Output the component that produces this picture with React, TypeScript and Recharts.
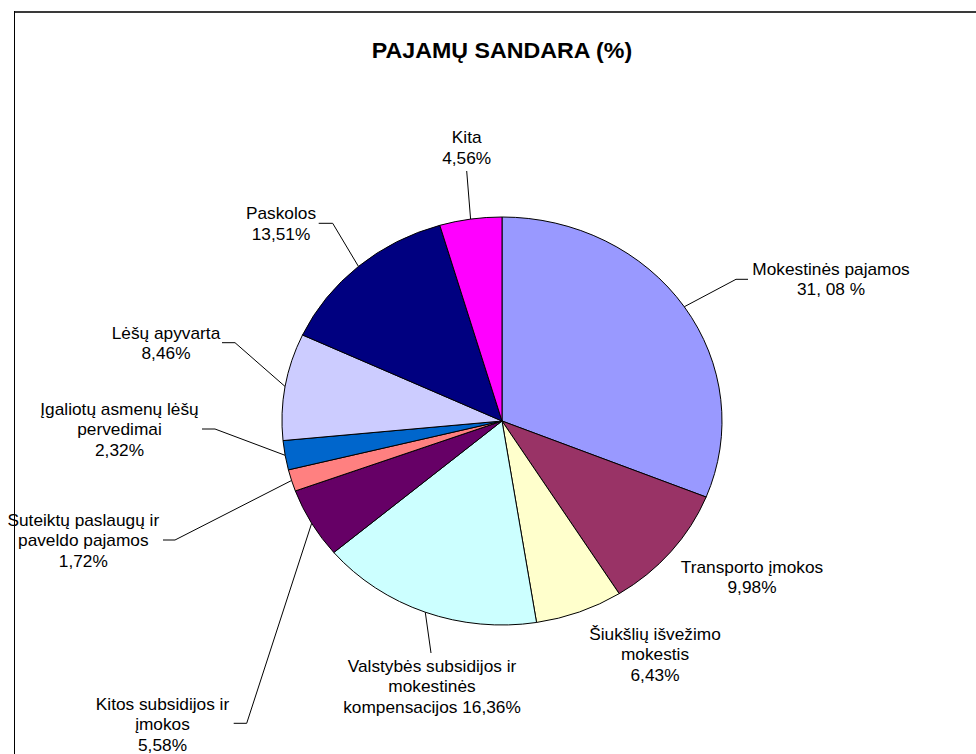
import React from 'react';
import { PieChart, Pie, Cell } from 'recharts';

// slice order runs clockwise from 12 o'clock, as in the source sheet
const categories = [
  'Mokestinės pajamos',
  'Transporto įmokos',
  'Šiukšlių išvežimo mokestis',
  'Valstybės subsidijos ir mokestinės kompensacijos',
  'Kitos subsidijos ir įmokos',
  'Suteiktų paslaugų ir paveldo pajamos',
  'Įgaliotų asmenų lėšų pervedimai',
  'Lėšų apyvarta',
  'Paskolos',
  'Kita',
];
const shares = [31.08, 9.98, 6.43, 16.36, 5.58, 1.72, 2.32, 8.46, 13.51, 4.56];
const labelText = [
  ['Mokestinės pajamos', '31, 08 %'],
  ['Transporto įmokos', '9,98%'],
  ['Šiukšlių išvežimo', 'mokestis', '6,43%'],
  ['Valstybės subsidijos ir', 'mokestinės', 'kompensacijos 16,36%'],
  ['Kitos subsidijos ir', 'įmokos', '5,58%'],
  ['Suteiktų paslaugų ir', 'paveldo pajamos', '1,72%'],
  ['Įgaliotų asmenų lėšų', 'pervedimai', '2,32%'],
  ['Lėšų apyvarta', '8,46%'],
  ['Paskolos', '13,51%'],
  ['Kita', '4,56%'],
];
const colors = ['#9999FF', '#993366', '#FFFFCC', '#CCFFFF', '#660066', '#FF8080', '#0066CC', '#CCCCFF', '#000080', '#FF00FF'];

const data = categories.map((name, i) => ({ name, value: shares[i] }));

// label placement relative to the pie centre (labels were dragged by hand in the original)
// dx/dy = text centre / first baseline, elbow = where the leader line bends, tail = horizontal stub
const labelLayout = [
  { dx: 329, dy: -146, elbow: [234, -141.7], tail: 12 },
  { dx: 250, dy: 152, elbow: null, tail: 0 },
  { dx: 153, dy: 219, elbow: null, tail: 0 },
  { dx: -70, dy: 251, elbow: [-71, 232], tail: 0 },
  { dx: -339.5, dy: 289, elbow: [-255.3, 302.3], tail: -13 },
  { dx: -418.7, dy: 105, elbow: [-327, 119], tail: -12 },
  { dx: -382.5, dy: -6, elbow: [-287, 8], tail: -13 },
  { dx: -336, dy: -82, elbow: [-267, -78.3], tail: -13 },
  { dx: -221, dy: -201.7, elbow: [-169.3, -197.7], tail: -14 },
  { dx: -35.3, dy: -277.7, elbow: [-35.3, -250], tail: 0 },
];

const W = 976;
const H = 754;
const CX = 502;
const CY = 421;
const R = 220;
const SQUASH = 204 / 220; // the original pie is slightly oval
const FONT = '"Liberation Sans", Arial, sans-serif';
const STRETCH = 1.08;
const RAD = Math.PI / 180;

function ovalPoint(cx: number, cy: number, r: number, angle: number) {
  return [cx + r * Math.cos(angle * RAD), cy - r * SQUASH * Math.sin(angle * RAD)];
}

function OvalSector(props: any) {
  const { cx, cy, outerRadius, startAngle, endAngle, fill } = props;
  const [x1, y1] = ovalPoint(cx, cy, outerRadius, startAngle);
  const [x2, y2] = ovalPoint(cx, cy, outerRadius, endAngle);
  const large = Math.abs(startAngle - endAngle) > 180 ? 1 : 0;
  const d = `M${cx},${cy} L${x1},${y1} A${outerRadius},${outerRadius * SQUASH} 0 ${large} 1 ${x2},${y2} Z`;
  return <path d={d} fill={fill} stroke="#000" strokeWidth={1} />;
}

function renderLabel(props: any) {
  const { cx, cy, midAngle, outerRadius, index } = props;
  const lay = labelLayout[index];
  const lines = labelText[index];
  const tx = cx + lay.dx;
  const ty = cy + lay.dy;
  let leader = null;
  if (lay.elbow) {
    const [sx, sy] = ovalPoint(cx, cy, outerRadius, midAngle);
    const ex = cx + lay.elbow[0];
    const ey = cy + lay.elbow[1];
    const pts = `${sx},${sy} ${ex},${ey}` + (lay.tail ? ` ${ex + lay.tail},${ey}` : '');
    leader = <polyline points={pts} fill="none" stroke="#000" strokeWidth={1} />;
  }
  return (
    <g key={`lbl-${index}`}>
      {leader}
      <g transform={`translate(${tx},${ty}) scale(${STRETCH},1)`}>
        <text textAnchor="middle" fontFamily={FONT} fontSize={16} fill="#000">
          {lines.map((ln, i) => (
            <tspan key={i} x={0} y={i * 20.5}>
              {ln}
            </tspan>
          ))}
        </text>
      </g>
    </g>
  );
}

export default function App() {
  return (
    <div style={{ position: 'absolute', left: 0, top: 0, width: W, height: H, background: '#fff', overflow: 'hidden' }}>
      <svg width={W} height={H} style={{ position: 'absolute', left: 0, top: 0 }}>
        <line x1={14} y1={12} x2={W} y2={12} stroke="#3a3a3a" strokeWidth={2} />
        <line x1={14.5} y1={11} x2={14.5} y2={H} stroke="#000" strokeWidth={1} />
        <g transform={`translate(${CX},58) scale(${STRETCH},1)`}>
          <text textAnchor="middle" fontFamily={FONT} fontSize={21.5} fontWeight="bold" fill="#000">
            PAJAMŲ SANDARA (%)
          </text>
        </g>
      </svg>
      <div style={{ position: 'absolute', left: 0, top: 0 }}>
        <PieChart width={W} height={H} margin={{ top: 0, right: 0, bottom: 0, left: 0 }}>
          <Pie
            data={data}
            dataKey="value"
            nameKey="name"
            cx={CX}
            cy={CY}
            outerRadius={R}
            startAngle={90}
            endAngle={-270}
            stroke="#000"
            strokeWidth={1}
            label={renderLabel}
            labelLine={false}
            shape={OvalSector}
            activeShape={OvalSector}
            inactiveShape={OvalSector}
            isAnimationActive={false}
          >
            {data.map((d, i) => (
              <Cell key={d.name} fill={colors[i]} />
            ))}
          </Pie>
        </PieChart>
      </div>
    </div>
  );
}
